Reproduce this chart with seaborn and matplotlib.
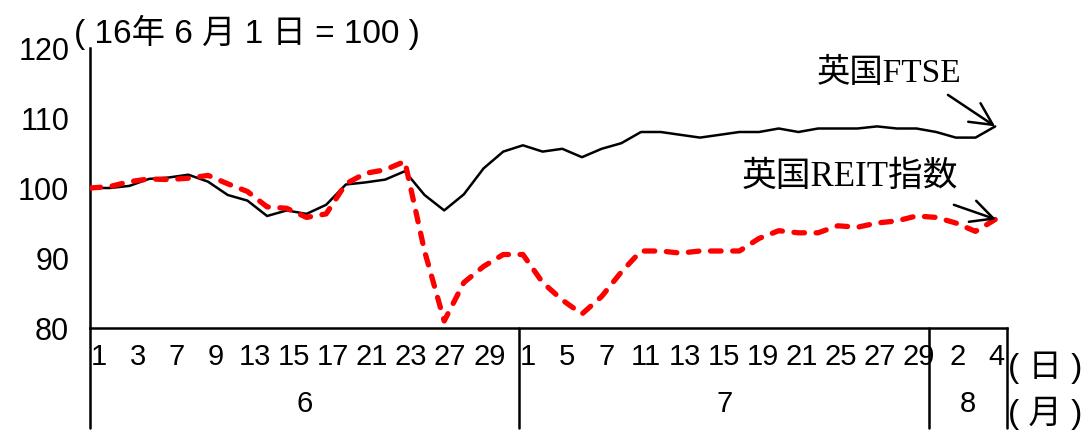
import numpy as np
import pandas as pd
import seaborn as sns
import matplotlib.pyplot as plt
from matplotlib import transforms

# trading days (2016)
june_days = [1, 2, 3, 6, 7, 8, 9, 10, 13, 14, 15, 16, 17, 20, 21, 22, 23, 24, 27, 28, 29, 30]
july_days = [1, 4, 5, 6, 7, 8, 11, 12, 13, 14, 15, 18, 19, 20, 21, 22, 25, 26, 27, 28, 29]
aug_days = [1, 2, 3, 4]
months = ["6", "7", "8"]

# index, 2016-06-01 = 100
ftse = [100.0, 100.0, 100.3, 101.3, 101.5, 101.9, 100.9, 99.0, 98.2, 96.0,
        96.8, 96.3, 97.6, 100.5, 100.8, 101.2, 102.4, 99.0, 96.8, 99.1,
        102.8, 105.2, 106.1, 105.2, 105.6, 104.4, 105.6, 106.4, 108.0, 108.0,
        107.6, 107.2, 107.6, 108.0, 108.0, 108.5, 108.0, 108.5, 108.5, 108.5,
        108.8, 108.5, 108.5, 108.0, 107.2, 107.2, 108.8]
reit = [100.0, 100.2, 100.9, 101.3, 101.2, 101.4, 101.8, 100.6, 99.5, 97.3,
        97.1, 95.8, 96.3, 100.6, 102.1, 102.6, 103.8, 91.0, 81.0, 86.5,
        88.8, 90.5, 90.5, 86.5, 84.0, 82.0, 84.5, 88.0, 91.0, 91.0,
        90.7, 91.0, 91.0, 91.0, 92.8, 93.9, 93.6, 93.6, 94.6, 94.4,
        95.0, 95.3, 96.0, 95.8, 95.0, 93.8, 95.5]

days = june_days + july_days + aug_days
df = pd.DataFrame({"idx": np.arange(len(days)), "ftse": ftse, "reit": reit})

sns.set_style("white")
plt.rcParams['font.family'] = ['Liberation Sans', 'Noto Sans CJK JP']
plt.rcParams['text.color'] = 'black'
plt.rcParams['xtick.color'] = 'black'
plt.rcParams['ytick.color'] = 'black'

fig = plt.figure(figsize=(10.92, 4.32), dpi=100)
ax = fig.add_axes([90 / 1092, 104 / 432, 917 / 1092, 280 / 432])

sns.lineplot(data=df, x="idx", y="ftse", color="black", lw=1.8, ax=ax, zorder=2)
sns.lineplot(data=df, x="idx", y="reit", color="#ff0000", lw=3.8, ax=ax, zorder=3)
red = ax.lines[-1]
red.set_dashes((2.0, 2.2))
red.set_dash_capstyle("round")

ax.set_xlim(0, 46.6)
ax.set_ylim(80, 120)
ax.set_yticks([80, 90, 100, 110, 120])
ax.set_xlabel("")
ax.set_ylabel("")

# every other trading day labelled
tick_pos = [i + 0.45 - i * 0.008 for i in range(0, len(days), 2)]
tick_lab = [str(d) for d in days[::2]]
ax.set_xticks(tick_pos, tick_lab)
ax.tick_params(axis="x", length=0, labelsize=21, pad=11)
ax.tick_params(axis="y", direction="in", length=5, width=1.8, labelsize=22, pad=15)

for s in ["top", "right"]:
    ax.spines[s].set_visible(False)
for s in ["left", "bottom"]:
    ax.spines[s].set_linewidth(1.8)
    ax.spines[s].set_color("black")

# month separators below the axis
bounds = [0, 21.8, 42.65, 46.6]
trans = transforms.blended_transform_factory(ax.transData, ax.transAxes)
for b in bounds:
    ax.plot([b, b], [0, -0.357], transform=trans, color="black", lw=1.8, clip_on=False)
for m, a, b in zip(months, bounds[:-1], bounds[1:]):
    ax.text((a + b) / 2, -0.27, m, transform=trans, ha="center", va="center", fontsize=21)

fig.text(1008 / 1092, 1 - 368 / 432, "( 日 )", ha="left", va="center", fontsize=24)
fig.text(1008 / 1092, 1 - 413 / 432, "( 月 )", ha="left", va="center", fontsize=24)
fig.text(74 / 1092, 1 - 32 / 432, "( 16年 6 月 1 日 = 100 )", ha="left", va="center", fontsize=24)

serif = ['Liberation Serif', 'Noto Sans CJK JP']
ax.text(40.6, 116.4, "英国FTSE", ha="center", va="center", fontsize=24, family=serif)
ax.text(38.6, 101.5, "英国REIT指数", ha="center", va="center", fontsize=25, family=serif)
arrow = dict(arrowstyle="->,head_length=0.8,head_width=0.4", color="black", lw=1.8,
             mutation_scale=20, shrinkA=0, shrinkB=0)
ax.annotate("", xy=(46, ftse[-1]), xytext=(43.6, 113.3), arrowprops=arrow)
ax.annotate("", xy=(46.05, reit[-1]), xytext=(43.9, 97.6), arrowprops=arrow)

fig.savefig("out.png", dpi=100)
